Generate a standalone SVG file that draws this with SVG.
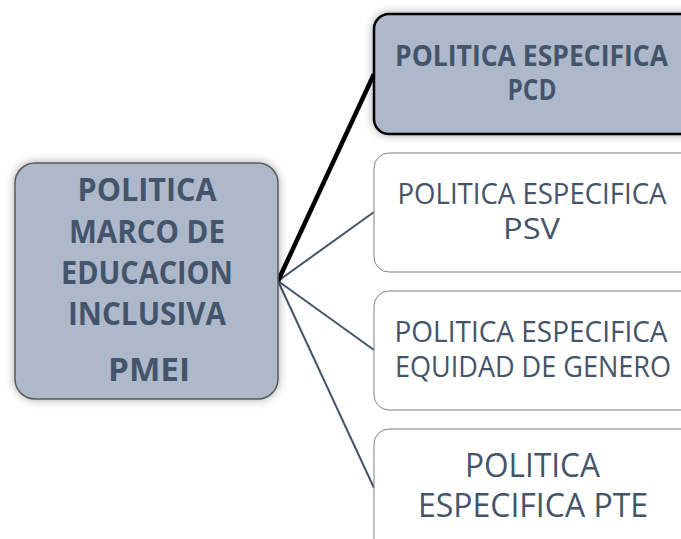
<svg xmlns="http://www.w3.org/2000/svg" width="681" height="539" viewBox="0 0 681 539">
<defs>
<filter id="sh" x="-20%" y="-20%" width="140%" height="140%">
<feGaussianBlur in="SourceAlpha" stdDeviation="5"/>
<feOffset dx="0" dy="0" result="b"/>
<feComponentTransfer><feFuncA type="linear" slope="0.35"/></feComponentTransfer>
<feMerge><feMergeNode/><feMergeNode in="SourceGraphic"/></feMerge>
</filter>
<style>
.t{font-family:"Open Sans","Noto Sans",sans-serif;fill:#44546A;text-anchor:middle}
.b{font-weight:bold}
.main{fill:#ADB9CA;stroke:#595959;stroke-width:1.5}
.top{fill:#ADB9CA;stroke:#000;stroke-width:2.5}
.wh{fill:#fff;stroke:#7f7f7f;stroke-width:1}
.c{stroke:#44546A;stroke-width:2;fill:none}
</style>
</defs>
<rect width="681" height="539" fill="#fff"/>
<g id="connectors">
<line class="c" x1="278" y1="281" x2="374" y2="212"/>
<line class="c" x1="278" y1="281" x2="374" y2="350"/>
<line class="c" x1="278" y1="281" x2="374" y2="488"/>
<line x1="278" y1="281" x2="374" y2="74" stroke="#000" stroke-width="4.5"/>
</g>
<g id="pmei">
<rect class="main" x="15" y="163" width="263" height="236" rx="20" filter="url(#sh)"/>
<text class="t b" font-size="33" x="147" y="201" textLength="139" lengthAdjust="spacingAndGlyphs">POLITICA</text>
<text class="t b" font-size="33" x="147" y="243" textLength="156" lengthAdjust="spacingAndGlyphs">MARCO DE</text>
<text class="t b" font-size="33" x="147" y="284" textLength="172" lengthAdjust="spacingAndGlyphs">EDUCACION</text>
<text class="t b" font-size="33" x="147" y="325" textLength="158" lengthAdjust="spacingAndGlyphs">INCLUSIVA</text>
<text class="t b" font-size="33" x="149" y="381" textLength="82" lengthAdjust="spacingAndGlyphs">PMEI</text>
</g>
<g id="pcd">
<rect class="top" x="374" y="14" width="330" height="120" rx="15" filter="url(#sh)"/>
<text class="t b" font-size="28" x="531.5" y="66" textLength="273" lengthAdjust="spacingAndGlyphs">POLITICA ESPECIFICA</text>
<text class="t b" font-size="28" x="532" y="100" textLength="49" lengthAdjust="spacingAndGlyphs">PCD</text>
</g>
<g id="psv">
<rect class="wh" x="374" y="153" width="330" height="119" rx="15"/>
<text class="t" font-size="28.5" x="532" y="204" textLength="269" lengthAdjust="spacingAndGlyphs">POLITICA ESPECIFICA</text>
<text class="t" font-size="28.5" x="531.5" y="239" textLength="57" lengthAdjust="spacingAndGlyphs">PSV</text>
</g>
<g id="equidad">
<rect class="wh" x="374" y="291" width="330" height="119" rx="15"/>
<text class="t" font-size="28.5" x="531" y="342" textLength="273" lengthAdjust="spacingAndGlyphs">POLITICA ESPECIFICA</text>
<text class="t" font-size="28.5" x="533" y="377" textLength="276" lengthAdjust="spacingAndGlyphs">EQUIDAD DE GENERO</text>
</g>
<g id="pte">
<rect class="wh" x="374" y="429" width="330" height="130" rx="15"/>
<text class="t" font-size="33" x="532.5" y="477" textLength="135" lengthAdjust="spacingAndGlyphs">POLITICA</text>
<text class="t" font-size="33" x="533" y="517" textLength="230" lengthAdjust="spacingAndGlyphs">ESPECIFICA PTE</text>
</g>
</svg>
